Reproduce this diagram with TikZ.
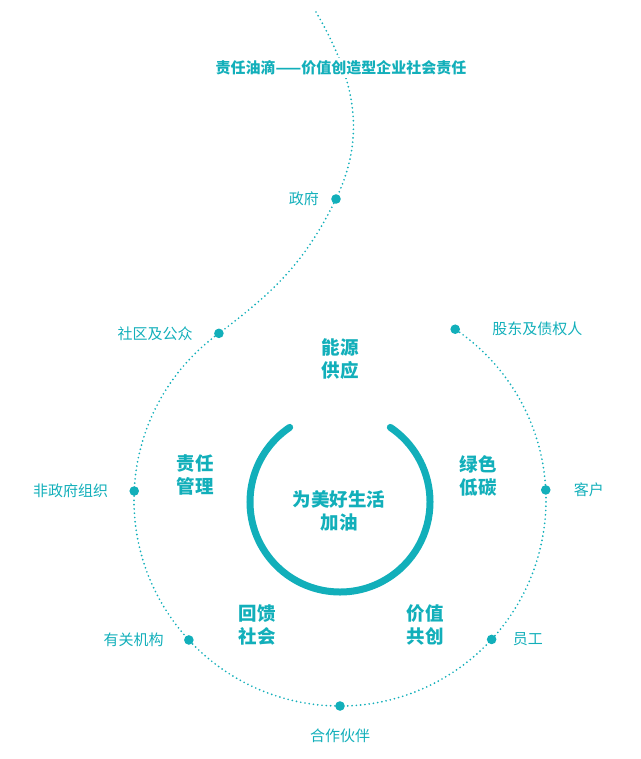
\documentclass[tikz,border=0pt]{standalone}
\usepackage{fontspec}
\setmainfont{Noto Sans CJK SC}
\definecolor{oilteal}{HTML}{12AFBA}
\tikzset{
	dotline/.style={oilteal, line width=1.9pt, dash pattern=on 0pt off 4.3pt, line cap=round},
	ring/.style={oilteal, line width=7pt, line cap=round},
	stake/.style={text=oilteal, inner sep=0pt, font=\fontsize{15}{18}\selectfont},
	theme/.style={text=oilteal, align=center, inner sep=0pt, font=\fontsize{18.5}{23}\selectfont\bfseries},
}
\begin{document}
\begin{tikzpicture}[x=1pt,y=1pt]
	\useasboundingbox (0,0) rectangle (640,-759);
	\coordinate (c) at (340,-500);
	\coordinate (hub) at (340,-502);
	\coordinate (start) at (316,-12);
	\coordinate (gov) at (336,-199);
	\coordinate (community) at ([shift={(126:206)}]c);
	\coordinate (ngo) at ([shift={(177.5:206)}]c);
	\coordinate (agency) at ([shift={(222.8:206)}]c);
	\coordinate (partner) at ([shift={(270:206)}]c);
	\coordinate (staff) at ([shift={(317.4:206)}]c);
	\coordinate (client) at ([shift={(2.8:206)}]c);
	\coordinate (holder) at ([shift={(56:206)}]c);

	\draw[dotline] (start) .. controls (353,-76) and (368,-132) .. (gov) .. controls (305,-262) and (275,-291) .. (community) arc[start angle=126, end angle=416, radius=206];
	\foreach \p in {gov,community,ngo,agency,partner,staff,client,holder}
		\fill[oilteal] (\p) circle (4.8);

	\node[text=oilteal, fill=white, inner sep=3pt, font=\fontsize{15}{17}\selectfont\bfseries] (title) at (341,-68) {责任油滴——价值创造型企业社会责任};

	\node[stake, anchor=east] (lgov) at ([xshift=-17]gov) {政府};
	\node[stake, anchor=east] (lcommunity) at ([xshift=-26]community) {社区及公众};
	\node[stake, anchor=east] (lngo) at ([xshift=-26]ngo) {非政府组织};
	\node[stake, anchor=east] (lagency) at ([xshift=-25]agency) {有关机构};
	\node[stake] (lpartner) at ([yshift=-30]partner) {合作伙伴};
	\node[stake, anchor=west] (lstaff) at ([xshift=21]staff) {员工};
	\node[stake, anchor=west] (lclient) at ([xshift=28]client) {客户};
	\node[stake, anchor=west] (lholder) at ([xshift=37]holder) {股东及债权人};

	\draw[ring] ([shift={(124:90)}]hub) arc[start angle=124, end angle=416, radius=90];
	\node[theme] (core) at (339,-511) {为美好生活\\加油};
	\node[theme] (energy) at (340,-359) {能源\\供应};
	\node[theme] (green) at (478,-476) {绿色\\低碳};
	\node[theme] (value) at (425,-625) {价值\\共创};
	\node[theme] (giveback) at (257,-625) {回馈\\社会};
	\node[theme] (manage) at (195,-475) {责任\\管理};
\end{tikzpicture}
\end{document}
